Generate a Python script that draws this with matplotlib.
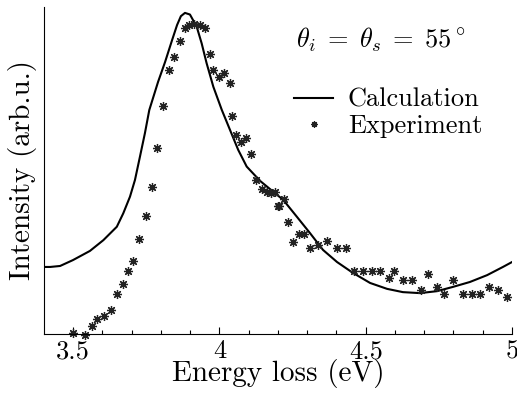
import numpy as np
import matplotlib
matplotlib.use("Agg")
import matplotlib.pyplot as plt

plt.rcParams['font.family'] = ['cmr10', 'DejaVu Serif']
plt.rcParams['mathtext.fontset'] = 'cm'
plt.rcParams['axes.unicode_minus'] = False
plt.rcParams['axes.formatter.use_mathtext'] = True

# calculated spectrum
calc_x = [3.400, 3.421, 3.455, 3.499, 3.557, 3.603, 3.649, 3.671, 3.694, 3.711,
          3.728, 3.745, 3.760, 3.790, 3.814, 3.838, 3.855, 3.868, 3.882, 3.899,
          3.922, 3.939, 3.956, 3.979, 4.008, 4.036, 4.064, 4.093, 4.139, 4.173,
          4.218, 4.265, 4.309, 4.354, 4.402, 4.456, 4.515, 4.573, 4.627, 4.685,
          4.744, 4.798, 4.856, 4.915, 4.969, 5.000]
calc_y = [0.205, 0.205, 0.208, 0.226, 0.254, 0.287, 0.328, 0.369, 0.420, 0.471,
          0.542, 0.614, 0.685, 0.771, 0.832, 0.899, 0.945, 0.972, 0.982, 0.977,
          0.940, 0.889, 0.828, 0.756, 0.685, 0.624, 0.563, 0.512, 0.468, 0.443,
          0.410, 0.358, 0.309, 0.257, 0.220, 0.187, 0.156, 0.138, 0.128, 0.125,
          0.131, 0.144, 0.159, 0.180, 0.205, 0.220]

# measured points
exp_x = [3.498, 3.540, 3.563, 3.582, 3.605, 3.628, 3.649, 3.669, 3.686, 3.705,
         3.726, 3.749, 3.768, 3.787, 3.808, 3.828, 3.844, 3.865, 3.882, 3.896,
         3.913, 3.933, 3.950, 3.968, 3.979, 3.999, 4.015, 4.036, 4.044, 4.055,
         4.073, 4.091, 4.108, 4.125, 4.144, 4.161, 4.176, 4.190, 4.199, 4.203,
         4.221, 4.235, 4.252, 4.272, 4.289, 4.309, 4.338, 4.366, 4.401, 4.432,
         4.461, 4.492, 4.520, 4.549, 4.580, 4.598, 4.628, 4.659, 4.689, 4.712,
         4.743, 4.768, 4.799, 4.834, 4.862, 4.891, 4.922, 4.953, 4.982]
exp_y = [0.002, -0.002, 0.025, 0.045, 0.056, 0.074, 0.123, 0.154, 0.194, 0.223,
         0.291, 0.361, 0.450, 0.570, 0.697, 0.807, 0.846, 0.896, 0.935, 0.945,
         0.948, 0.945, 0.935, 0.856, 0.807, 0.787, 0.799, 0.769, 0.668, 0.609,
         0.588, 0.600, 0.550, 0.471, 0.443, 0.435, 0.432, 0.435, 0.391, 0.392,
         0.412, 0.342, 0.282, 0.305, 0.305, 0.262, 0.272, 0.284, 0.262, 0.262,
         0.194, 0.194, 0.194, 0.194, 0.172, 0.194, 0.165, 0.165, 0.135, 0.183,
         0.145, 0.123, 0.165, 0.123, 0.123, 0.123, 0.145, 0.135, 0.114]

xticks = [3.5, 4, 4.5, 5]
xticklabels = ['3.5', '4', '4.5', '5']

fig = plt.figure(figsize=(5.17, 3.96), dpi=100)
ax = fig.add_axes([0.0851, 0.1566, 0.9052, 0.8257])

ax.plot(calc_x, calc_y, color='black', lw=1.5, label='Calculation')
ax.plot(exp_x, exp_y, linestyle='none', marker=(8, 2, 0), markersize=6.5,
        color='#222222', markeredgewidth=0.9, clip_on=False, label='Experiment')

ax.set_xlim(3.4, 5.0)
ax.set_ylim(0, 1)
ax.set_xticks(xticks)
ax.set_xticklabels(xticklabels)
ax.set_xticks(np.arange(3.5, 5.01, 0.1), minor=True)
ax.set_yticks([])
ax.tick_params(axis='x', which='major', direction='in', length=5, width=0.8,
               labelsize=19, pad=4)
ax.tick_params(axis='x', which='minor', direction='in', length=3, width=0.8)
for s in ['top', 'right']:
    ax.spines[s].set_visible(False)

ax.set_xlabel('Energy loss (eV)', fontsize=21, labelpad=-3)
ax.set_ylabel('Intensity (arb.u.)', fontsize=21, labelpad=5)

ax.text(0.538, 0.899, r'$\theta_i\;=\;\theta_s\;=\;55^\circ$', transform=ax.transAxes,
        fontsize=19, va='center')

leg = ax.legend(loc='upper left', bbox_to_anchor=(0.50, 0.80), frameon=False,
                fontsize=19, handlelength=1.5, handletextpad=0.55,
                labelspacing=0.1, markerscale=0.7, borderaxespad=0.2)

fig.savefig('out.png', dpi=100)
